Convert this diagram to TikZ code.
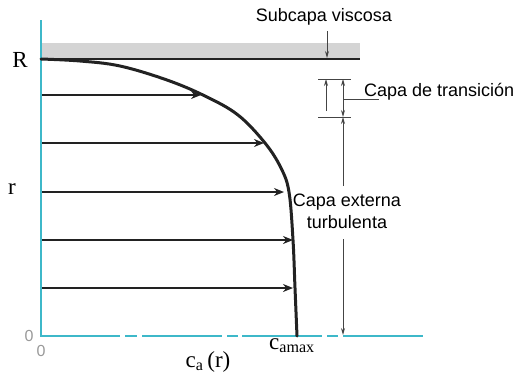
\documentclass[tikz,border=0pt]{standalone}
\usepackage{fontspec}
\setmainfont{Liberation Serif}
\setsansfont{Liberation Sans}
\usetikzlibrary{arrows.meta}
\definecolor{axcyan}{HTML}{3DB8C9}
\definecolor{band}{HTML}{D4D4D4}
\definecolor{ink}{HTML}{222222}
\definecolor{thin}{HTML}{444444}
\tikzset{
  axis/.style={draw=axcyan, line width=2pt},
  vel/.style={draw=ink, line width=2.4pt, -{Stealth[length=10pt,width=8pt]}},
  prof/.style={draw=ink, line width=3pt, line cap=round},
  ann/.style={draw=thin, line width=0.9pt},
  annarr/.style={ann, -{Stealth[length=7pt,width=4pt]}},
  sanslbl/.style={font=\sffamily\fontsize{18}{21}\selectfont, inner sep=0pt},
  seriflbl/.style={font=\fontsize{23}{26}\selectfont, inner sep=0pt},
  zerolbl/.style={font=\sffamily\fontsize{16}{18}\selectfont, text=gray!80, inner sep=0pt}
}
\begin{document}
\begin{tikzpicture}[x=1pt,y=-1pt]
\useasboundingbox (0,0) rectangle (517,376);
% gray viscous band
\fill[band] (41,43) rectangle (360,59);
\draw[ink, line width=1.6pt] (41,59) -- (360,59);
% axes
\draw[axis] (41,20) -- (41,337);
\foreach \a/\b in {41/120,125/137,142/222,227/238,242/322,327/338,343/423}
  \draw[axis] (\a,336) -- (\b,336);
% profile curve
\coordinate (w) at (41,59);
\coordinate (c) at (297,336);
\draw[prof] plot[smooth, tension=0.6] coordinates {(41,59) (80,61) (120,66) (167,80) (205,96) (238,115) (265,143) (281,168) (289,192) (293,240) (295,288) (297,336)};
% velocity arrows
\foreach \y/\x/\n in {95/201/a1,143/264/a2,192/284/a3,240/293/a4,288/293/a5}{
  \coordinate (\n s) at (42,\y);
  \coordinate (\n e) at (\x,\y);
  \draw[vel] (\n s) -- (\n e);
}
% labels
\node[seriflbl, anchor=base] (R) at (20,67) {R};
\node[seriflbl, anchor=base] (r) at (12,194) {r};
\node[zerolbl] (z1) at (29,336) {0};
\node[zerolbl] (z2) at (41,351) {0};
\node[seriflbl, anchor=base] (ca) at (208,367) {c\textsubscript{a}\,(r)};
\node[seriflbl, anchor=base] (cmax) at (292,349) {c\textsubscript{amax}};
% Subcapa viscosa
\node[sanslbl, anchor=base] (sv) at (324,21) {Subcapa viscosa};
\coordinate (sv1) at (327,31);
\coordinate (sv2) at (327,58);
\draw[annarr] (sv1) -- (sv2);
% transition layer
\coordinate (t1a) at (318,79); \coordinate (t1b) at (351,79);
\coordinate (t2a) at (318,117); \coordinate (t2b) at (351,117);
\draw[ann] (t1a) -- (t1b);
\draw[ann] (t2a) -- (t2b);
\coordinate (u1) at (326,111); \coordinate (u2) at (326,79);
\draw[annarr] (u1) -- (u2);
\coordinate (v1) at (343,79); \coordinate (v2) at (343,117);
\draw[ann, {Stealth[length=7pt,width=4pt]}-{Stealth[length=7pt,width=4pt]}] (v1) -- (v2);
\coordinate (l1) at (343,99); \coordinate (l2) at (379,99);
\draw[ann] (l1) -- (l2);
\node[sanslbl, anchor=base west] (tr) at (364,96) {Capa de transición};
% outer turbulent layer
\node[sanslbl, anchor=base] (ce) at (347,206) {Capa externa};
\node[sanslbl, anchor=base] (tu) at (347,228) {turbulenta};
\coordinate (o1) at (343,186);
\draw[annarr] (o1) -- (v2);
\coordinate (o2) at (343,239);
\coordinate (o3) at (343,335);
\draw[annarr] (o2) -- (o3);
\end{tikzpicture}
\end{document}
